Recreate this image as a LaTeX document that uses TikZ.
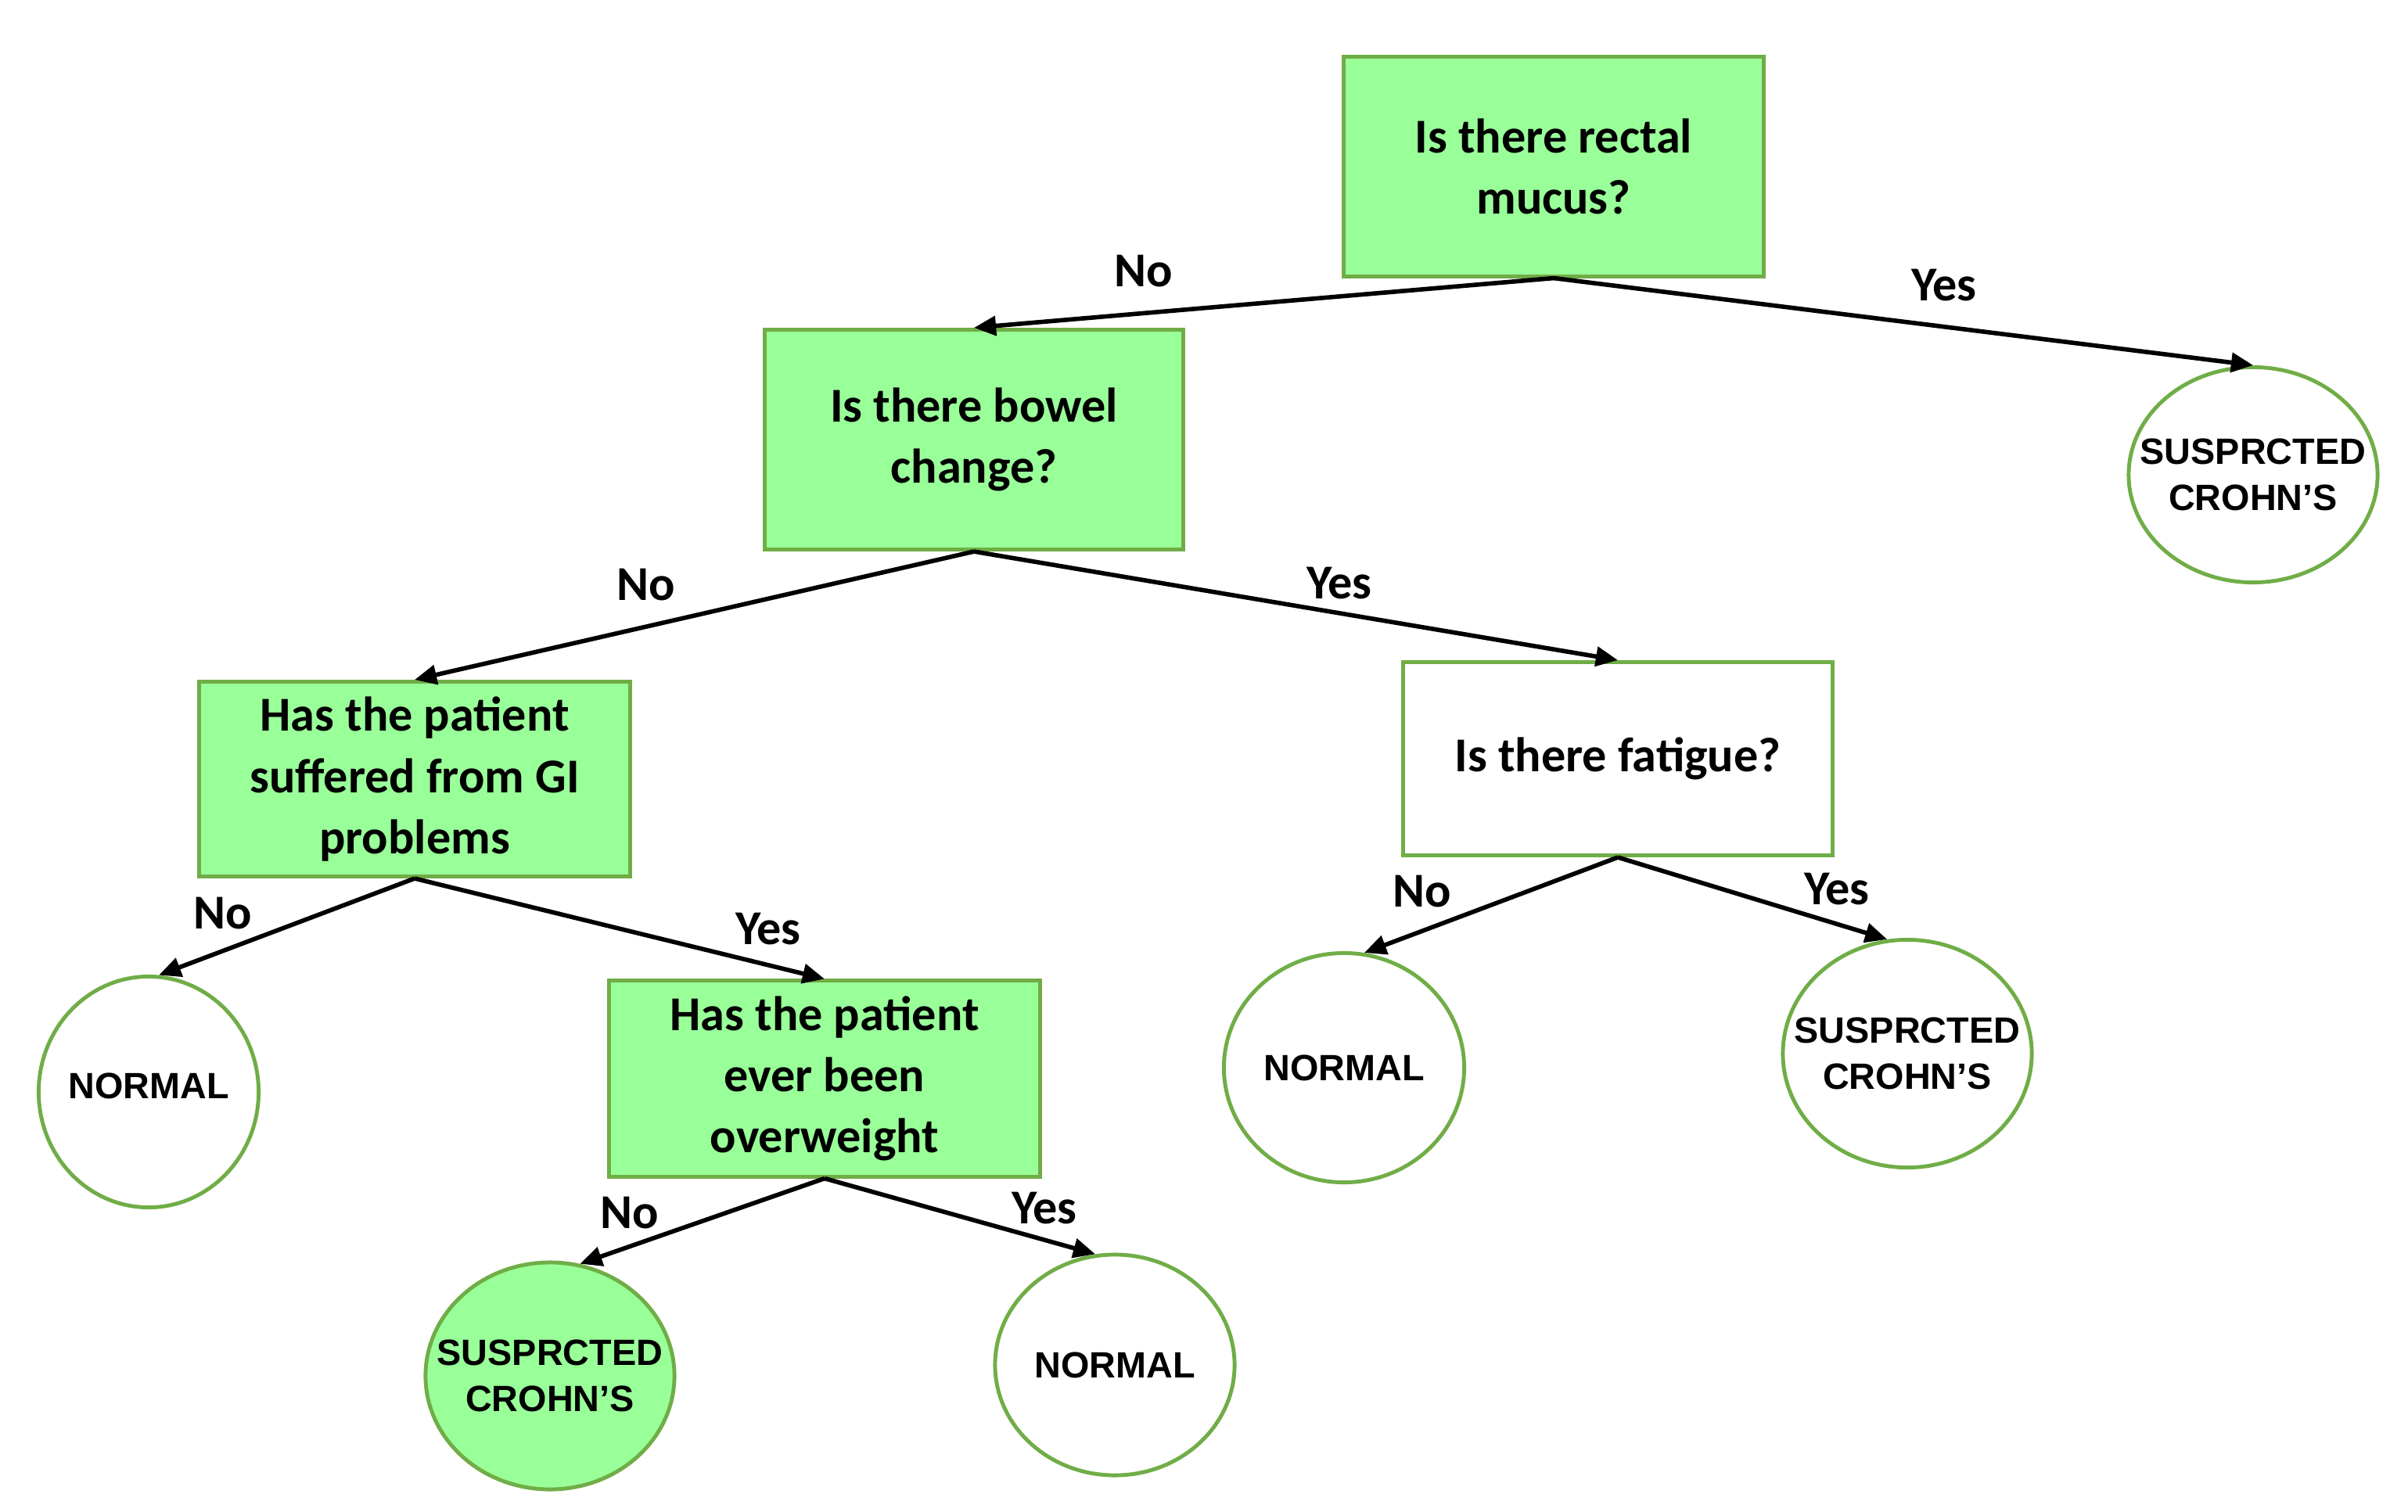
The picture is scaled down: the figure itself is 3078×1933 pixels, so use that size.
\documentclass[tikz,border=0pt]{standalone}
\usepackage{fontspec}
\setmainfont{Carlito}
\newfontfamily\leaffont{Liberation Sans}
\usetikzlibrary{shapes.geometric,arrows.meta}
\definecolor{boxgreen}{RGB}{112,173,71}
\definecolor{leafgreen}{RGB}{153,255,153}
\newcommand{\tight}[1]{\makebox[0pt]{#1}}
\tikzset{
  question/.style = {rectangle, draw=boxgreen, line width=1.4pt, fill=leafgreen,
    inner sep=0pt, align=center, font=\fontsize{17.7}{22.2}\selectfont\bfseries},
  outcome/.style = {ellipse, draw=boxgreen, line width=1.4pt, fill=white,
    inner sep=0pt, align=center, font=\leaffont\fontsize{13.3}{16.8}\selectfont\bfseries},
  answer/.style = {font=\fontsize{17.7}{22.2}\selectfont\bfseries, inner sep=0pt},
  branch/.style = {-{Triangle[length=8pt,width=7pt]}, line width=1.6pt}
}
\begin{document}
\begin{tikzpicture} [x=0.01cm, y=-0.01cm]
    \useasboundingbox (0,0) rectangle (3078,1933);
    % place nodes
    \node [question, minimum width=5.36cm, minimum height=2.80cm] (mucus) at (1986,213) {Is there rectal\\mucus?};
    \node [outcome, minimum width=3.18cm, minimum height=2.75cm] (crohnA) at (2880,607) {\tight{SUSPRCTED}\\\tight{CROHN’S}};
    \node [question, minimum width=5.34cm, minimum height=2.81cm] (bowel) at (1245,562) {Is there bowel\\change?};
    \node [question, minimum width=5.50cm, minimum height=2.49cm] (gi) at (530,996) {Has the patient\\suffered from GI\\problems};
    \node [question, fill=white, minimum width=5.48cm, minimum height=2.47cm] (fatigue) at (2068,970) {Is there fatigue?};
    \node [outcome, minimum width=2.81cm, minimum height=2.95cm] (normalA) at (190,1396) {\raisebox{0.16cm}{\tight{NORMAL}}};
    \node [question, minimum width=5.50cm, minimum height=2.50cm] (weight) at (1054,1379) {Has the patient\\ever been\\overweight};
    \node [outcome, minimum width=3.07cm, minimum height=2.93cm] (normalB) at (1718,1365) {\tight{NORMAL}};
    \node [outcome, minimum width=3.18cm, minimum height=2.91cm] (crohnB) at (2438,1347) {\tight{SUSPRCTED}\\\tight{CROHN’S}};
    \node [outcome, fill=leafgreen, minimum width=3.18cm, minimum height=2.90cm] (crohnC) at (703,1759) {\tight{SUSPRCTED}\\\tight{CROHN’S}};
    \node [outcome, minimum width=3.06cm, minimum height=2.82cm] (normalC) at (1425,1745) {\tight{NORMAL}};
    % place answers
    \node [answer] (noA) at (1462,347) {No};
    \node [answer] (yesA) at (2485,365) {Yes};
    \node [answer] (noB) at (826,748) {No};
    \node [answer] (yesB) at (1712,746) {Yes};
    \node [answer] (noC) at (285,1168) {No};
    \node [answer] (yesC) at (982,1188) {Yes};
    \node [answer] (noD) at (1818,1140) {No};
    \node [answer] (yesD) at (2348,1137) {Yes};
    \node [answer] (noE) at (805,1551) {No};
    \node [answer] (yesE) at (1335,1545) {Yes};
    % draw edges
    \draw [branch] (mucus.south) -- (bowel.north);
    \draw [branch] (mucus.south) -- (crohnA.north);
    \draw [branch] (bowel.south) -- (gi.north);
    \draw [branch] (bowel.south) -- (fatigue.north);
    \draw [branch] (gi.south) -- (normalA.85);
    \draw [branch] (gi.south) -- (weight.north);
    \draw [branch] (fatigue.south) -- (normalB.80);
    \draw [branch] (fatigue.south) -- (crohnB.100);
    \draw [branch] (weight.south) -- (crohnC.75);
    \draw [branch] (weight.south) -- (normalC.100);
\end{tikzpicture}
\end{document}
